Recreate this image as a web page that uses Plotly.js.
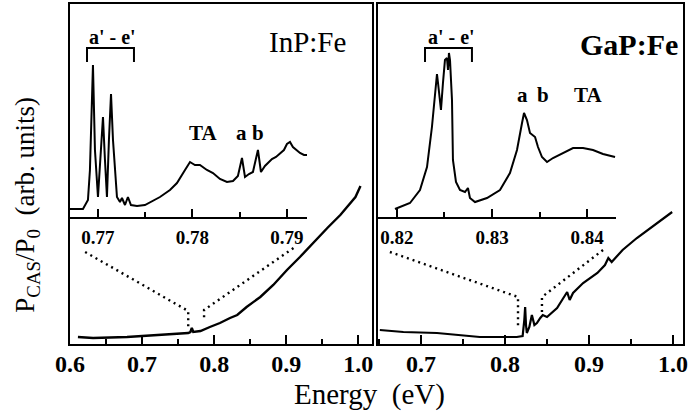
<!DOCTYPE html>
<html>
<head>
<meta charset="utf-8">
<script src="https://cdn.plot.ly/plotly-3.0.1.min.js"></script>
<style>html,body{margin:0;padding:0;background:#fff}#chart{width:688px;height:420px}</style>
</head>
<body>
<div id="chart"></div>
<script>
// ---- Main spectra (Energy in eV, signal in arb. units) ----
const inpMainE = [0.611,0.632,0.679,0.725,0.757,0.764,0.767,0.769,0.771,0.781,0.794,0.808,0.822,0.832,0.845,0.864,0.882,0.901,0.919,0.938,0.957,0.975,0.989,0.996,1.003];
const inpMainV = [7,6,7,9,11,11,12,16,12,13,17,21,26,29,37,47,59,74,87,102,116,129,141,147,158];

const gapMainE = [0.651,0.679,0.719,0.743,0.770,0.814,0.821,0.823,0.824,0.825,0.826,0.829,0.832,0.835,0.838,0.842,0.845,0.850,0.856,0.862,0.868,0.874,0.877,0.881,0.893,0.910,0.919,0.923,0.927,0.940,0.957,0.973,0.988,0.999];
const gapMainV = [14,12,11,9,7,7,8,24,37,19,11,17,29,19,21,26,29,27,32,36,44,52,44,51,61,71,79,86,82,94,106,116,126,132];

// ---- Inset (expanded) spectra ----
const inpInsetE = [0.76704,0.76841,0.76894,0.76915,0.76947,0.76968,0.77000,0.77032,0.77053,0.77074,0.77095,0.77116,0.77138,0.77159,0.77201,0.77233,0.77254,0.77286,0.77317,0.77349,0.77413,0.77497,0.77656,0.77762,0.77836,0.77921,0.77974,0.78026,0.78079,0.78153,0.78217,0.78291,0.78365,0.78429,0.78481,0.78524,0.78556,0.78598,0.78640,0.78693,0.78725,0.78767,0.78799,0.78841,0.78884,0.78926,0.78968,0.79000,0.79032,0.79063,0.79106,0.79138,0.79180,0.79212];
const inpInsetV = [8,8,17,47,152,67,20,67,100,57,20,77,123,77,20,15,19,12,20,12,11,12,20,27,34,47,55,52,52,47,44,38,35,36,41,59,40,43,45,67,45,51,54,58,60,64,67,73,75,70,67,64,62,62];

const gapInsetE = [0.81979,0.82137,0.82242,0.82316,0.82368,0.82400,0.82421,0.82432,0.82463,0.82484,0.82505,0.82526,0.82537,0.82547,0.82558,0.82579,0.82589,0.82621,0.82663,0.82716,0.82747,0.82768,0.82821,0.82947,0.83084,0.83189,0.83263,0.83316,0.83337,0.83368,0.83400,0.83453,0.83484,0.83526,0.83579,0.83642,0.83747,0.83853,0.83958,0.84063,0.84168,0.84295];
const gapInsetV = [8,14,27,50,90,127,143,134,107,134,157,159,147,164,157,117,57,35,27,25,29,19,15,19,27,44,67,94,104,97,84,80,70,60,55,59,64,69,69,67,63,60];

// ---- Dotted connectors (main-panel coordinates) ----
const inpConnLeftE = [0.621,0.764,0.764];
const inpConnLeftV = [92,33,16];
const inpConnRightE = [0.910,0.786,0.786];
const inpConnRightV = [96,34,24];
const gapConnLeftE = [0.663,0.8155,0.8155];
const gapConnLeftV = [92,47,17];
const gapConnRightE = [0.9167,0.844,0.844];
const gapConnRightV = [94,47,32];

// ---- Brackets over a'-e' lines (inset coordinates) ----
const inpBracketE = [0.76884,0.76884,0.77381,0.77381];
const gapBracketE = [0.82295,0.82295,0.82789,0.82789];
const bracketV = [155,169,169,155];

// ---- Text ----
const sampleNames = ["InP:Fe","GaP:Fe"];
const bracketLabel = "a' - e'";
const xTitle = "Energy\u00A0\u00A0(eV)";
const yTitle = "P<sub>CAS</sub>/P<sub>0</sub>\u00A0\u00A0(arb. units)";

const FONT = "Liberation Serif, Times New Roman, serif";
const blk = "#000";

function line(x, y, xa, ya, w, dash) {
  return {x: x, y: y, xaxis: xa, yaxis: ya, type: "scatter", mode: "lines",
          line: {color: blk, width: w, dash: dash || "solid"}, hoverinfo: "skip"};
}
const dotDash = "2px,4px";
const traces = [
  line(inpConnLeftE, inpConnLeftV, "x", "y", 2.4, dotDash),
  line(inpConnRightE, inpConnRightV, "x", "y", 2.4, dotDash),
  line(gapConnLeftE, gapConnLeftV, "x2", "y2", 2.4, dotDash),
  line(gapConnRightE, gapConnRightV, "x2", "y2", 2.4, dotDash),
  line(inpMainE, inpMainV, "x", "y", 2.4),
  line(gapMainE, gapMainV, "x2", "y2", 2.2),
  line(inpInsetE, inpInsetV, "x3", "y3", 2),
  line(gapInsetE, gapInsetV, "x4", "y4", 2),
  line(inpBracketE, bracketV, "x3", "y3", 2),
  line(gapBracketE, bracketV, "x4", "y4", 2)
];

function mainX(domain, range, anchor) {
  return {domain: domain, range: range, anchor: anchor, showline: true, mirror: true,
    linewidth: 2, linecolor: blk, ticks: "inside", ticklen: 9, tickwidth: 2, tickcolor: blk,
    dtick: 0.1, tick0: 0, tickformat: ".1f", ticklabelstandoff: -3, ticklabeloverflow: "allow",
    tickfont: {family: FONT, size: 24, color: blk, weight: "bold"},
    minor: {ticks: "inside", ticklen: 5, tickwidth: 2, tickcolor: blk, dtick: 0.05, showgrid: false},
    showgrid: false, zeroline: false, fixedrange: true};
}
function mainY(anchor) {
  return {domain: [0, 1], range: [0, 340], anchor: anchor, showline: true, mirror: true,
    linewidth: 2, linecolor: blk, ticks: "", showticklabels: false, showgrid: false, zeroline: false};
}
function insetX(domain, range, anchor) {
  return {domain: domain, range: range, anchor: anchor, showline: true, mirror: false,
    linewidth: 2, linecolor: blk, ticks: "inside", ticklen: 8, tickwidth: 2, tickcolor: blk,
    dtick: 0.01, tick0: 0, tickformat: ".2f", ticklabelstandoff: 2, ticklabeloverflow: "allow",
    tickfont: {family: FONT, size: 19, color: blk, weight: "bold"},
    minor: {ticks: "inside", ticklen: 5, tickwidth: 2, tickcolor: blk, dtick: 0.005, showgrid: false},
    showgrid: false, zeroline: false};
}
function insetY(anchor) {
  return {domain: [0.3735, 1], range: [0, 213], anchor: anchor, visible: false};
}

function ann(text, x, y, xref, yref, size, bold, extra) {
  return Object.assign({text: text, x: x, y: y, xref: xref, yref: yref, showarrow: false,
    xanchor: "center", yanchor: "middle",
    font: {family: FONT, size: size, color: blk, weight: bold ? "bold" : "normal"}}, extra || {});
}

const layout = {
  width: 688, height: 420,
  margin: {l: 70, r: 5, t: 4, b: 76},
  paper_bgcolor: "#fff", plot_bgcolor: "rgba(0,0,0,0)",
  showlegend: false,
  font: {family: FONT, color: blk},
  xaxis: mainX([0, 0.4927], [0.6, 1.019], "y"),
  yaxis: mainY("x"),
  xaxis2: mainX([0.5024, 1], [0.6488, 1.0119], "y2"),
  yaxis2: mainY("x2"),
  xaxis3: insetX([0, 0.3866], [0.76704, 0.79212], "y3"),
  yaxis3: insetY("x3"),
  xaxis4: insetX([0.5024, 0.8907], [0.818, 0.84305], "y4"),
  yaxis4: insetY("x4"),
  annotations: [
    ann(sampleNames[0], 0.388, 0.888, "paper", "paper", 29, false),
    ann(sampleNames[1], 0.912, 0.882, "paper", "paper", 30, true),
    ann(bracketLabel, 0.77159, 180, "x3", "y3", 20, true),
    ann(bracketLabel, 0.82579, 180, "x4", "y4", 20, true),
    ann("TA", 0.78111, 84, "x3", "y3", 21, true),
    ann("a", 0.78524, 84, "x3", "y3", 21, true),
    ann("b", 0.78693, 84, "x3", "y3", 21, true),
    ann("a", 0.83326, 122, "x4", "y4", 21, true),
    ann("b", 0.83537, 122, "x4", "y4", 21, true),
    ann("TA", 0.84011, 122, "x4", "y4", 21, true),
    ann(xTitle, 0.489, -0.15, "paper", "paper", 29, false),
    ann(yTitle, -0.070, 0.41, "paper", "paper", 27, false, {textangle: -90})
  ]
};

Plotly.newPlot("chart", traces, layout, {staticPlot: true, displayModeBar: false});
</script>
</body>
</html>
